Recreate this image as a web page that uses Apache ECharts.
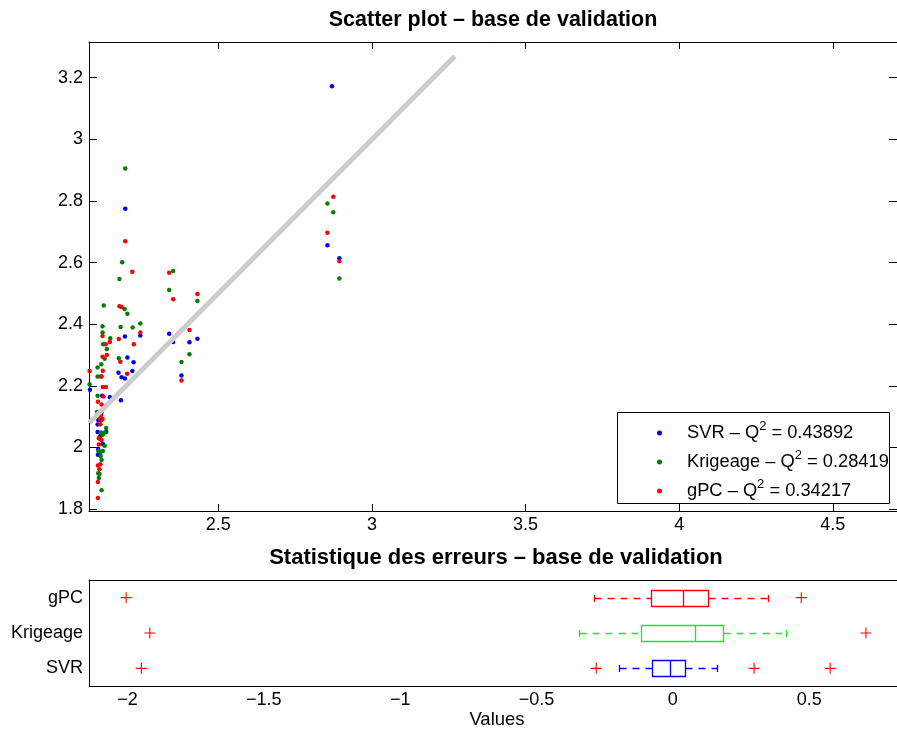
<!DOCTYPE html>
<html><head><meta charset="utf-8">
<script src="https://cdn.jsdelivr.net/npm/echarts@6/dist/echarts.min.js"></script>
<style>html,body{margin:0;padding:0;background:#fff}#c{width:897px;height:734px}</style>
</head><body><div id="c"></div><script>
// ---------- data ----------
const svrPts = [[2.870,3.172],[2.197,2.775],[2.855,2.656],[2.894,2.614],[2.340,2.369],[2.406,2.341],[2.432,2.353],[2.380,2.233],[2.353,2.342],[2.246,2.363],[2.196,2.360],[2.204,2.292],[2.224,2.276],[2.175,2.242],[2.220,2.248],[2.185,2.228],[2.196,2.224],[2.082,2.187],[2.122,2.168],[2.147,2.163],[2.183,2.153],[2.109,2.115],[2.120,2.115],[2.109,2.089],[2.120,2.089],[2.107,2.074],[2.107,2.050],[2.135,2.050],[2.116,2.037],[2.124,2.011],[2.109,1.995],[2.108,1.976],[2.113,1.976]];
const krigPts = [[2.197,2.905],[2.187,2.601],[2.178,2.547],[2.353,2.573],[2.340,2.511],[2.432,2.475],[2.855,2.792],[2.874,2.763],[2.894,2.548],[2.406,2.302],[2.380,2.277],[2.127,2.461],[2.195,2.449],[2.204,2.434],[2.246,2.402],[2.123,2.393],[2.182,2.391],[2.221,2.389],[2.123,2.373],[2.148,2.354],[2.125,2.335],[2.137,2.319],[2.176,2.289],[2.130,2.288],[2.119,2.270],[2.107,2.259],[2.107,2.230],[2.117,2.230],[2.081,2.205],[2.107,2.168],[2.105,2.115],[2.135,2.063],[2.118,2.048],[2.130,2.048],[2.124,2.041],[2.130,2.005],[2.109,1.989],[2.117,1.986],[2.124,1.988],[2.117,1.972],[2.120,1.959],[2.109,1.916],[2.113,1.914],[2.111,1.901],[2.120,1.861]];
const gpcPts = [[2.874,2.814],[2.855,2.697],[2.894,2.604],[2.197,2.669],[2.220,2.570],[2.340,2.567],[2.353,2.481],[2.432,2.498],[2.178,2.458],[2.185,2.456],[2.406,2.381],[2.380,2.217],[2.246,2.373],[2.123,2.362],[2.176,2.352],[2.147,2.342],[2.133,2.335],[2.225,2.335],[2.137,2.300],[2.123,2.294],[2.181,2.278],[2.081,2.248],[2.124,2.249],[2.203,2.239],[2.120,2.230],[2.124,2.196],[2.134,2.196],[2.126,2.165],[2.108,2.148],[2.120,2.139],[2.118,2.105],[2.114,2.094],[2.123,2.092],[2.116,2.075],[2.111,2.030],[2.116,2.027],[2.120,2.024],[2.111,2.009],[2.108,1.941],[2.116,1.945],[2.113,1.929],[2.108,1.888],[2.108,1.836]];
const refLine = [2.08, 3.27];
const seriesNames = ['SVR', 'Krigeage', 'gPC'];
const q2Values = ['0.43892', '0.28419', '0.34217'];

const scatterXTicks = [2.5, 3, 3.5, 4, 4.5];
const scatterYTicks = [1.8, 2, 2.2, 2.4, 2.6, 2.8, 3, 3.2];

// box statistics: [lower whisker, q1, median, q3, upper whisker]
const boxCategories = ['SVR', 'Krigeage', 'gPC'];
const svrStats  = [-0.197, -0.075, -0.009, 0.044, 0.162];
const krigStats = [-0.345, -0.117,  0.080, 0.183, 0.414];
const gpcStats  = [-0.288, -0.081,  0.037, 0.130, 0.350];
const svrOutliers  = [-1.949, -0.281, 0.298, 0.577];
const krigOutliers = [-1.918, 0.708];
const gpcOutliers  = [-2.005, 0.471];
const boxXTicks = [-2, -1.5, -1, -0.5, 0, 0.5];

// ---------- chart ----------
const FONT = 'Liberation Sans, Arial, Helvetica, sans-serif';
const boxColors = ['#0000ff', '#14f014', '#ff0000'];
const allStats = [svrStats, krigStats, gpcStats];
const outlierRows = [];
[svrOutliers, krigOutliers, gpcOutliers].forEach((arr, i) => arr.forEach(v => outlierRows.push([v, i])));

const axisLine = {show: true, onZero: false, lineStyle: {color: '#000', width: 1}};
const tickStyle = {lineStyle: {color: '#000', width: 1}};
const lbl = {color: '#000', fontSize: 18, fontFamily: FONT};
const minus = v => (v < 0 ? '\u2212' + (-v) : String(v));

const staticGraphics = [
  {type: 'rect', z: 15, shape: {x: 617.5, y: 412.5, width: 272, height: 91}, style: {fill: '#fff', stroke: '#000', lineWidth: 1}},
  {type: 'text', x: 493, y: 20, style: {text: 'Scatter plot \u2013 base de validation', font: 'bold 21.5px ' + FONT, fill: '#000', textAlign: 'center', textVerticalAlign: 'middle'}},
  {type: 'text', x: 496, y: 558, style: {text: 'Statistique des erreurs \u2013 base de validation', font: 'bold 22px ' + FONT, fill: '#000', textAlign: 'center', textVerticalAlign: 'middle'}},
  {type: 'text', x: 497, y: 720, style: {text: 'Values', font: '18.5px ' + FONT, fill: '#000', textAlign: 'center', textVerticalAlign: 'middle'}}
];

const chart = echarts.init(document.getElementById('c'), null, {renderer: 'canvas'});
chart.setOption({
  animation: false,
  backgroundColor: '#fff',
  grid: [
    {left: 89, right: -1, top: 42, bottom: 223},
    {left: 89, right: -1, top: 580, bottom: 48}
  ],
  xAxis: [
    {gridIndex: 0, type: 'value', min: 2.079, max: 4.709, position: 'bottom', axisLine,
     axisTick: {inside: true, length: 7, customValues: scatterXTicks, ...tickStyle},
     axisLabel: {customValues: scatterXTicks, margin: 5, ...lbl}, splitLine: {show: false}},
    {gridIndex: 0, type: 'value', min: 2.079, max: 4.709, position: 'top', axisLine,
     axisTick: {inside: true, length: 7, customValues: scatterXTicks, ...tickStyle},
     axisLabel: {show: false}, splitLine: {show: false}},
    {gridIndex: 1, type: 'value', min: -2.141, max: 0.822, position: 'bottom', axisLine,
     axisTick: {inside: true, length: 7, customValues: boxXTicks, ...tickStyle},
     axisLabel: {customValues: boxXTicks, margin: 5, formatter: minus, ...lbl}, splitLine: {show: false}},
    {gridIndex: 1, type: 'value', min: -2.141, max: 0.822, position: 'top', axisLine,
     axisTick: {inside: true, length: 7, customValues: boxXTicks, ...tickStyle},
     axisLabel: {show: false}, splitLine: {show: false}}
  ],
  yAxis: [
    {gridIndex: 0, type: 'value', min: 1.7935, max: 3.316, position: 'left', axisLine,
     axisTick: {inside: true, length: 8, customValues: scatterYTicks, ...tickStyle},
     axisLabel: {customValues: scatterYTicks, margin: 6, ...lbl}, splitLine: {show: false}},
    {gridIndex: 0, type: 'value', min: 1.7935, max: 3.316, position: 'right', axisLine,
     axisTick: {inside: true, length: 8, customValues: scatterYTicks, ...tickStyle},
     axisLabel: {show: false}, splitLine: {show: false}},
    {gridIndex: 1, type: 'category', data: boxCategories, position: 'left', axisLine,
     axisTick: {inside: true, length: 7, alignWithLabel: true, ...tickStyle},
     axisLabel: {margin: 6, ...lbl}, splitLine: {show: false}},
    {gridIndex: 1, type: 'category', data: boxCategories, position: 'right', axisLine,
     axisTick: {inside: true, length: 7, alignWithLabel: true, ...tickStyle},
     axisLabel: {show: false}, splitLine: {show: false}}
  ],
  legend: {
    orient: 'vertical', left: 652, top: 415, itemWidth: 5, itemHeight: 5, itemGap: 3,
    icon: 'circle', z: 20,
    data: seriesNames,
    formatter: name => name + ' \u2013 Q{sup|2} = ' + q2Values[seriesNames.indexOf(name)],
    textStyle: {color: '#000', fontSize: 18.3, fontFamily: FONT, lineHeight: 26, padding: [0, 0, 0, 20],
      rich: {sup: {fontSize: 13, fontFamily: FONT, color: '#000', verticalAlign: 'top', lineHeight: 8}}}
  },
  graphic: staticGraphics,
  series: [
    {name: 'SVR', type: 'scatter', xAxisIndex: 0, yAxisIndex: 0, data: svrPts, symbolSize: 4.5, itemStyle: {color: '#0000ff', opacity: 1}, z: 2},
    {name: 'Krigeage', type: 'scatter', xAxisIndex: 0, yAxisIndex: 0, data: krigPts, symbolSize: 4.5, itemStyle: {color: '#008000', opacity: 1}, z: 2},
    {name: 'gPC', type: 'scatter', xAxisIndex: 0, yAxisIndex: 0, data: gpcPts, symbolSize: 4.5, itemStyle: {color: '#ff0000', opacity: 1}, z: 2},
    {name: 'ref', type: 'line', xAxisIndex: 0, yAxisIndex: 0, data: refLine.map(v => [v, v]), symbol: 'none',
     lineStyle: {color: '#cccccc', width: 5}, z: 3, silent: true},
    {name: 'outliers', type: 'scatter', xAxisIndex: 2, yAxisIndex: 2, data: outlierRows,
     symbol: 'path://M4.5,0h1v4.5h4.5v1h-4.5v4.5h-1v-4.5h-4.5v-1h4.5z', symbolSize: 11,
     itemStyle: {color: '#ff0000', opacity: 1}, z: 4}
  ]
});

// box plots drawn through the box axes' scale (convertToPixel)
const finder = {xAxisIndex: 2, yAxisIndex: 2};
const r = v => Math.round(v) + 0.5;
const boxEls = [];
allStats.forEach((st, cat) => {
  const color = boxColors[cat];
  const px = st.map(v => r(chart.convertToPixel(finder, [v, cat])[0]));
  const y = r(chart.convertToPixel(finder, [st[2], cat])[1]);
  const h = 8, cap = 3.5;
  const ln = (x1, y1, x2, y2, dash) => ({type: 'line', z: 30, silent: true, shape: {x1, y1, x2, y2},
    style: dash ? {stroke: color, lineWidth: 1.3, lineDash: [7, 6], fill: null} : {stroke: color, lineWidth: 1.3, fill: null}});
  boxEls.push(
    {type: 'rect', z: 30, silent: true, shape: {x: px[1], y: y - h, width: px[3] - px[1], height: 2 * h}, style: {stroke: color, fill: 'none', lineWidth: 1.3}},
    ln(px[2], y - h, px[2], y + h),
    ln(px[0], y, px[1], y, true),
    ln(px[3], y, px[4], y, true),
    ln(px[0], y - cap, px[0], y + cap),
    ln(px[4], y - cap, px[4], y + cap)
  );
});
chart.setOption({graphic: staticGraphics.concat(boxEls)});
</script></body></html>
